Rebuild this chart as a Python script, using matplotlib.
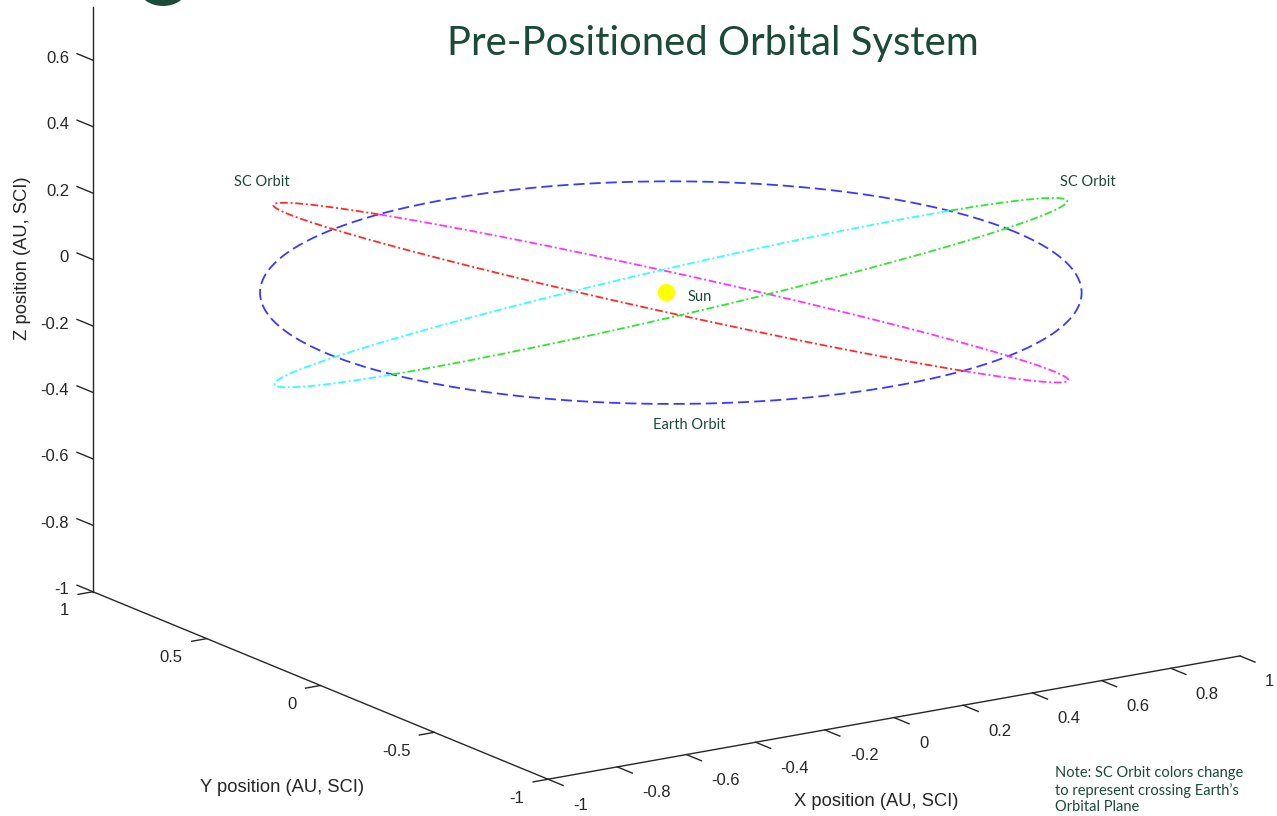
import numpy as np
import matplotlib
matplotlib.use('Agg')
import matplotlib.pyplot as plt
from matplotlib.patches import Ellipse
from mpl_toolkits.mplot3d import proj3d

# orbit data (AU, SCI frame)
orbit_center = [0.004, -0.013, 0.0]
earth_radius = 0.992
sc_radius = [0.992, 0.992]
sc_incl_deg = [21.0, 21.0]
sc_node_deg = [102.0, 194.0]
# (above Earth's plane, below Earth's plane)
sc_colors = [('#ff2a2a', '#ff33ff'), ('#2ee62e', '#33ffff')]
sun_pos = [0.0, 0.0, 0.0]

x_ticks = [-1, -0.8, -0.6, -0.4, -0.2, 0, 0.2, 0.4, 0.6, 0.8, 1]
y_ticks = [-1, -0.5, 0, 0.5, 1]
z_ticks = [-1, -0.8, -0.6, -0.4, -0.2, 0, 0.2, 0.4, 0.6]
x_lim = (-1, 1)
y_lim = (-1, 1)
z_lim = (-1, 0.76)

title = 'Pre-Positioned Orbital System'
note = 'Note: SC Orbit colors change\nto represent crossing Earth\u2019s\nOrbital Plane'

W, H = 1277, 816
GREEN = '#1c4a38'
AX_COLOR = '#262626'
plt.rcParams['lines.scale_dashes'] = False


def px(x, y):
    # pixel position (from top-left) to figure fraction
    return x / W, 1 - y / H


def orbit(radius, incl_deg, node_deg, t):
    inc = np.radians(incl_deg)
    om = np.radians(node_deg)
    node = np.array([np.cos(om), np.sin(om), 0.0])
    perp = np.array([-np.sin(om) * np.cos(inc), np.cos(om) * np.cos(inc), np.sin(inc)])
    pts = radius * (np.outer(np.cos(t), node) + np.outer(np.sin(t), perp)) + orbit_center
    return pts[:, 0], pts[:, 1], pts[:, 2]


fig = plt.figure(figsize=(W / 100, H / 100), dpi=100)
ax = fig.add_axes([0.1, 0.05, 800 / W, 800 / H], projection='3d',
                  proj_type='ortho', computed_zorder=False)
ax.set_xlim(*x_lim)
ax.set_ylim(*y_lim)
ax.set_zlim(*z_lim)
ax.set_box_aspect((2 * 414, 2 * 414, (z_lim[1] - z_lim[0]) * 345))
ax.view_init(elev=15.72, azim=-123.33)
ax.set_axis_off()
ax.patch.set_facecolor('none')

# earth orbit
t = np.linspace(0, 2 * np.pi, 721)
ax.plot(*orbit(earth_radius, 0.0, 0.0, t), color='#3a3aff', lw=1.3,
        dashes=(8, 3.6), zorder=2)

# spacecraft orbits, split where they cross Earth's orbital plane
t_up = np.linspace(0, np.pi, 361)
t_dn = np.linspace(np.pi, 2 * np.pi, 361)
for r, inc, node, (c_up, c_dn) in zip(sc_radius, sc_incl_deg, sc_node_deg, sc_colors):
    ax.plot(*orbit(r, inc, node, t_up), color=c_up, lw=1.3,
            dashes=(5.6, 2.0, 1.4, 2.0), zorder=3)
    ax.plot(*orbit(r, inc, node, t_dn), color=c_dn, lw=1.3,
            dashes=(5.6, 2.0, 1.4, 2.0), zorder=3)

# sun
ax.plot([sun_pos[0]], [sun_pos[1]], [sun_pos[2]], 'o', color='#ffff00',
        ms=11.5, mec='#ffff00', zorder=4)

# matlab style axis lines + ticks
ax_kw = dict(color=AX_COLOR, lw=1.0, zorder=1)
ax.plot([-1, -1], [1, 1], list(z_lim), **ax_kw)
ax.plot([-1, -1], [1, -1], [-1, -1], **ax_kw)
ax.plot([-1, 1], [-1, -1], [-1, -1], **ax_kw)
for z in z_ticks:
    ax.plot([-1, -1], [1, 1.07], [z, z], **ax_kw)
for y in y_ticks:
    ax.plot([-1, -1.043], [y, y], [-1, -1], **ax_kw)
for x in x_ticks:
    ax.plot([x, x], [-1, -1.066], [-1, -1], **ax_kw)

# place the axes so the box corners land where the reference has them
fig.canvas.draw()
M = ax.get_proj()
corners = np.array([[-1, 1, -1], [-1, -1, -1], [1, -1, -1]], dtype=float)
targets = np.array([[93, H - 591.3], [548, H - 779.3], [1240, H - 656.3]], dtype=float)
xs, ys, _ = proj3d.proj_transform(corners[:, 0], corners[:, 1], corners[:, 2], M)
cur = ax.transData.transform(np.column_stack([xs, ys]))
bb = ax.bbox
q = (cur - [bb.x0, bb.y0]) / bb.width
qc = q - q.mean(axis=0)
tc = targets - targets.mean(axis=0)
L = (qc * tc).sum() / (qc * qc).sum()
O = targets.mean(axis=0) - L * q.mean(axis=0)
ax.set_position([O[0] / W, O[1] / H, L / W, L / H])


def data_to_fig(x, y, z):
    xs, ys, _ = proj3d.proj_transform(np.atleast_1d(float(x)), np.atleast_1d(float(y)),
                                      np.atleast_1d(float(z)), M)
    disp = ax.transData.transform(np.column_stack([xs, ys]))
    return fig.transFigure.inverted().transform(disp)[0]


# tick labels, anchored on the projected 3d positions
lab_kw = dict(fontsize=12, color=AX_COLOR, family='Liberation Sans', va='center')
for z in z_ticks:
    fig.text(*data_to_fig(-1, 1.105, z - 0.024), f'{z:g}', ha='right', **lab_kw)
for y in y_ticks:
    fig.text(*data_to_fig(-1.069, y, -1.045), f'{y:g}', ha='right', **lab_kw)
for x in x_ticks:
    fig.text(*data_to_fig(x, -1.11, -1.047), f'{x:g}', ha='left', **lab_kw)

# axis labels
lbl_kw = dict(fontsize=13.2, color=AX_COLOR, family='Liberation Sans',
              ha='center', va='center')
fig.text(*px(876, 802), 'X position (AU, SCI)', **lbl_kw)
fig.text(*px(282, 787), 'Y position (AU, SCI)', **lbl_kw)
fig.text(*px(23, 258), 'Z position (AU, SCI)', rotation=90, **lbl_kw)

# slide annotations
ann_kw = dict(fontsize=10.5, color=GREEN, family='Lato', ha='center', va='center')
fig.text(*px(262, 182), 'SC Orbit', **ann_kw)
fig.text(*px(1088, 182), 'SC Orbit', **ann_kw)
fig.text(*px(700, 297), 'Sun', **ann_kw)
fig.text(*px(689, 425), 'Earth Orbit', **ann_kw)
fig.text(*px(1055, 790), note, fontsize=10.5, color=GREEN, family='Lato',
         ha='left', va='center', linespacing=1.2)
fig.text(*px(713, 44), title, fontsize=28.8, color=GREEN, family='Lato',
         ha='center', va='center')
fig.patches.append(Ellipse(px(163, -10), 46 / W, 32 / H, transform=fig.transFigure,
                           facecolor=GREEN, edgecolor='none'))

fig.savefig('out.png', dpi=100)
